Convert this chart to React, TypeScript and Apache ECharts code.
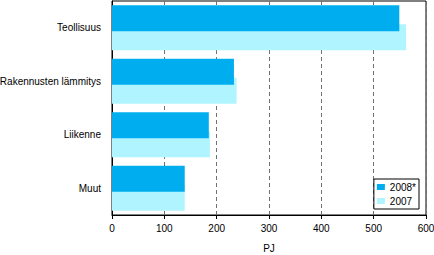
import React, { useEffect, useRef } from "react";
import * as echarts from "echarts";

const categories = ["Teollisuus", "Rakennusten lämmitys", "Liikenne", "Muut"];
const values2008 = [549, 233, 185, 139];
const values2007 = [562, 238, 187, 139];
const seriesNames = ["2008*", "2007"];
const axisName = "PJ";

const FONT = 'Arial, "Liberation Sans", sans-serif';

export default function App() {
  const ref = useRef<HTMLDivElement>(null);
  useEffect(() => {
    if (!ref.current) return;
    const chart = echarts.init(ref.current, null, { renderer: "svg" });
    chart.setOption({
      animation: false,
      textStyle: { fontFamily: FONT, color: "#000" },
      grid: {
        left: 112,
        right: 8,
        top: 1,
        bottom: 40,
        containLabel: false,
        outerBoundsMode: "none",
        show: true,
        borderColor: "#000",
        borderWidth: 1,
        backgroundColor: "transparent",
      },
      legend: {
        orient: "vertical",
        right: 15,
        bottom: 46,
        data: seriesNames,
        itemWidth: 8,
        itemHeight: 6,
        itemGap: 4,
        padding: [3, 3, 3, 3],
        borderColor: "#000",
        borderWidth: 1,
        borderRadius: 0,
        backgroundColor: "#fff",
        icon: "rect",
        textStyle: { fontSize: 10, color: "#000", fontFamily: FONT },
      },
      xAxis: {
        type: "value",
        min: 0,
        max: 600,
        interval: 100,
        name: axisName,
        nameLocation: "middle",
        nameGap: 28,
        nameTextStyle: { fontSize: 10, color: "#000", fontFamily: FONT },
        axisLine: { show: true, lineStyle: { color: "#000", width: 1 } },
        axisTick: { show: true, length: 4, lineStyle: { color: "#000" } },
        axisLabel: { fontSize: 10, color: "#000", margin: 8, fontFamily: FONT },
        splitLine: {
          show: true,
          lineStyle: { color: "#707070", type: [4, 3], width: 1 },
        },
      },
      yAxis: {
        type: "category",
        data: categories,
        inverse: true,
        axisLine: { show: true, lineStyle: { color: "#000", width: 1 } },
        axisTick: { show: false },
        axisLabel: { fontSize: 10, color: "#000", margin: 11, fontFamily: FONT },
        splitLine: { show: false },
      },
      series: [
        {
          name: seriesNames[0],
          type: "bar",
          data: values2008,
          barWidth: 26,
          barGap: "-27%",
          z: 3,
          itemStyle: { color: "#00AEEF" },
        },
        {
          name: seriesNames[1],
          type: "bar",
          data: values2007,
          barWidth: 26,
          barGap: "-27%",
          z: 2,
          itemStyle: { color: "#B0F4FF" },
        },
      ],
    });
    return () => chart.dispose();
  }, []);
  return (
    <div
      ref={ref}
      style={{ position: "fixed", left: 0, top: 0, width: 434, height: 255, background: "#fff" }}
    />
  );
}
